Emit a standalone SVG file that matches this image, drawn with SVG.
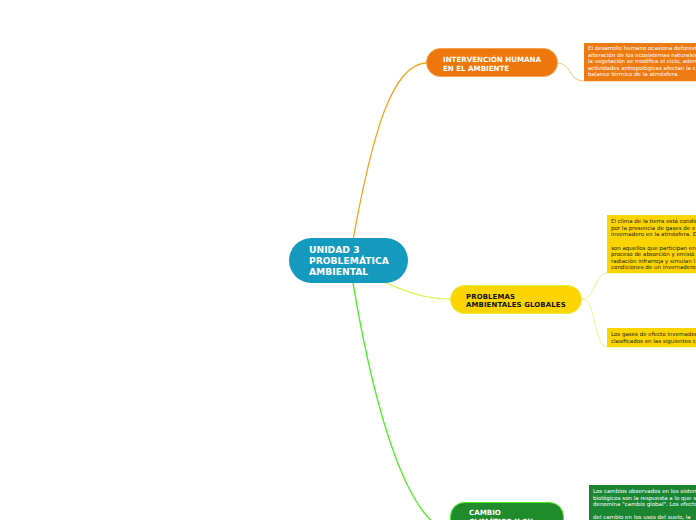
<svg xmlns="http://www.w3.org/2000/svg" width="696" height="520" viewBox="0 0 696 520">
<style>
.t{font-family:"DejaVu Sans","Liberation Sans",sans-serif;font-weight:bold;}
.s{font-family:"DejaVu Sans","Liberation Sans",sans-serif;font-size:5.5px;}
.c{fill:none;}
</style>
<rect width="696" height="520" fill="#ffffff"/>
<g id="connectors">
<path class="c" d="M353,240 C372,135 392,63 427,63" stroke="#f7a21f" stroke-width="1.3"/>
<path class="c" d="M386,283 C410,293 425,299 451,299" stroke="#d6f03c" stroke-width="1.2"/>
<path class="c" d="M353,283 C376,420 410,526 452,532" stroke="#4cef22" stroke-width="1.4"/>
<path class="c" d="M557,63 C572,63 568,81 584,81 L696,81" stroke="#f6c480" stroke-width="1"/>
<path class="c" d="M582,299 C596,299 594,273 607,273 L696,273" stroke="#e6f58c" stroke-width="1"/>
<path class="c" d="M582,299 C596,299 594,347 607,347 L696,347" stroke="#e6f58c" stroke-width="1"/>
</g>
<g id="central">
<rect x="289" y="238" width="119" height="45" rx="22.5" fill="#159abf"/>
<text class="t" fill="#ffffff" font-size="9.2" letter-spacing="0"><tspan x="309" y="253">UNIDAD 3</tspan><tspan x="309" y="264">PROBLEMÁTICA</tspan><tspan x="309" y="275">AMBIENTAL</tspan></text>
</g>
<g id="intervencion">
<rect x="426.5" y="48.5" width="131" height="28" rx="14" fill="#ee770c" stroke="#f5a14e" stroke-width="1"/>
<text class="t" fill="#ffffff" font-size="7.1"><tspan x="443" y="62">INTERVENCIÓN HUMANA</tspan><tspan x="443" y="71">EN EL AMBIENTE</tspan></text>
</g>
<g id="intervencion-nota">
<rect x="584" y="43" width="120" height="38" fill="#ee7a12"/>
<text class="s" fill="#ffffff"><tspan x="588" y="50">El desarrollo humano ocasiona deforest</tspan><tspan x="588" y="56.5">alteración de los ecosistemas naturales</tspan><tspan x="588" y="63">la vegetación se modifica el ciclo, adem</tspan><tspan x="588" y="69.5">actividades antropológicas afectan la c</tspan><tspan x="588" y="76">balance térmico de la atmósfera.</tspan></text>
</g>
<g id="problemas">
<rect x="450.5" y="285.5" width="131" height="28" rx="14" fill="#fcd500" stroke="#e2ee3c" stroke-width="1"/>
<text class="t" fill="#111111" font-size="6.9" letter-spacing="0.15"><tspan x="466" y="298.5">PROBLEMAS</tspan><tspan x="466" y="306.5">AMBIENTALES GLOBALES</tspan></text>
</g>
<g id="problemas-nota1">
<rect x="607" y="215" width="100" height="58" fill="#fcd500"/>
<text class="s" fill="#222222"><tspan x="611" y="223">El clima de la tierra está condic</tspan><tspan x="611" y="229.5">por la presencia de gases de e</tspan><tspan x="611" y="236">invernadero en la atmósfera. E</tspan><tspan x="611" y="249.5">son aquellos que participan en</tspan><tspan x="611" y="256">proceso de absorción y emisió</tspan><tspan x="611" y="262.5">radiación infrarroja y simulan l</tspan><tspan x="611" y="269">condiciones de un invernadero</tspan></text>
</g>
<g id="problemas-nota2">
<rect x="607" y="328" width="100" height="19" fill="#fcd500"/>
<text class="s" fill="#222222"><tspan x="611" y="336">Los gases de efecto invernaded</tspan><tspan x="611" y="342.5">clasificados en las siguientes c</tspan></text>
</g>
<g id="cambio">
<rect x="450.5" y="502.5" width="113" height="40" rx="14" fill="#1f8b2b" stroke="#4cef22" stroke-width="1"/>
<text class="t" fill="#ffffff" font-size="7.1"><tspan x="469" y="515">CAMBIO</tspan><tspan x="469" y="524">CLIMÁTICO Y SU</tspan></text>
</g>
<g id="cambio-nota">
<rect x="589" y="485" width="120" height="40" fill="#1a8632"/>
<text class="s" fill="#ffffff"><tspan x="593" y="493">Los cambios observados en los sistem</tspan><tspan x="593" y="499.5">biológicos son la respuesta a lo que s</tspan><tspan x="593" y="506">denomina "cambio global". Los efecto</tspan><tspan x="593" y="519">del cambio en los usos del suelo, la</tspan></text>
</g>
</svg>
